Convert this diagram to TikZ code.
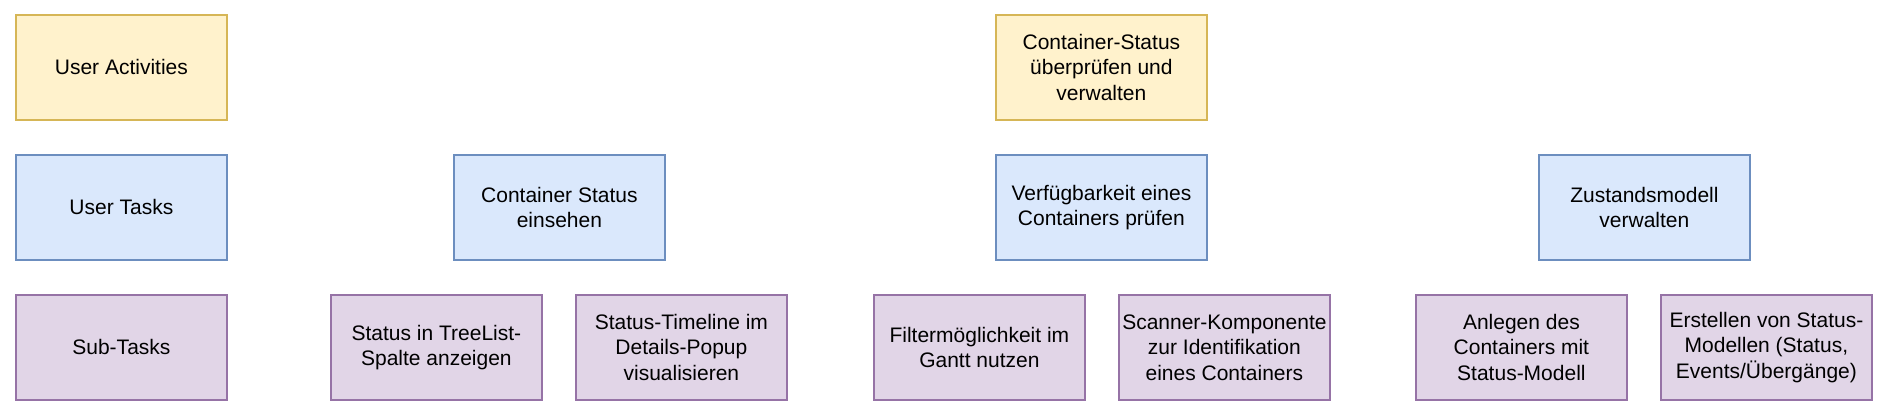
\documentclass[tikz,border=0pt]{standalone}
\usepackage{fontspec}
\setmainfont{Liberation Sans}
\definecolor{yfill}{HTML}{FFF2CC}\definecolor{ydraw}{HTML}{D6B656}
\definecolor{bfill}{HTML}{DAE8FC}\definecolor{bdraw}{HTML}{6C8EBF}
\definecolor{pfill}{HTML}{E1D5E7}\definecolor{pdraw}{HTML}{9673A6}
\tikzset{
  box/.style={rectangle, anchor=north west, minimum width=211pt, minimum height=105pt,
    inner sep=0pt, align=center, line width=1.8pt, font=\fontsize{21}{25.5}\selectfont},
  act/.style={box, fill=yfill, draw=ydraw},
  task/.style={box, fill=bfill, draw=bdraw},
  sub/.style={box, fill=pfill, draw=pdraw},
}
\begin{document}
\begin{tikzpicture}[x=1pt,y=-1pt]
\useasboundingbox (0,0) rectangle (1891,418);
% legend column
\node[act]  (la) at (15,14)  {User Activities};
\node[task] (lt) at (15,154) {User Tasks};
\node[sub]  (ls) at (15,294) {Sub-Tasks};
% activity
\node[act]  (a1) at (995,14) {Container-Status\\überprüfen und\\verwalten};
% tasks
\node[task] (t1) at (453,154)  {Container Status\\einsehen};
\node[task] (t2) at (995,154)  {Verfügbarkeit eines\\Containers prüfen};
\node[task] (t3) at (1538,154) {Zustandsmodell\\verwalten};
% sub-tasks
\node[sub] (s1) at (330,294)  {Status in TreeList-\\Spalte anzeigen};
\node[sub] (s2) at (575,294)  {Status-Timeline im\\Details-Popup\\visualisieren};
\node[sub] (s3) at (873,294)  {Filtermöglichkeit im\\Gantt nutzen};
\node[sub] (s4) at (1118,294) {Scanner-Komponente\\zur Identifikation\\eines Containers};
\node[sub] (s5) at (1415,294) {Anlegen des\\Containers mit\\Status-Modell};
\node[sub] (s6) at (1660,294) {Erstellen von Status-\\Modellen (Status,\\Events/Übergänge)};
\end{tikzpicture}
\end{document}
